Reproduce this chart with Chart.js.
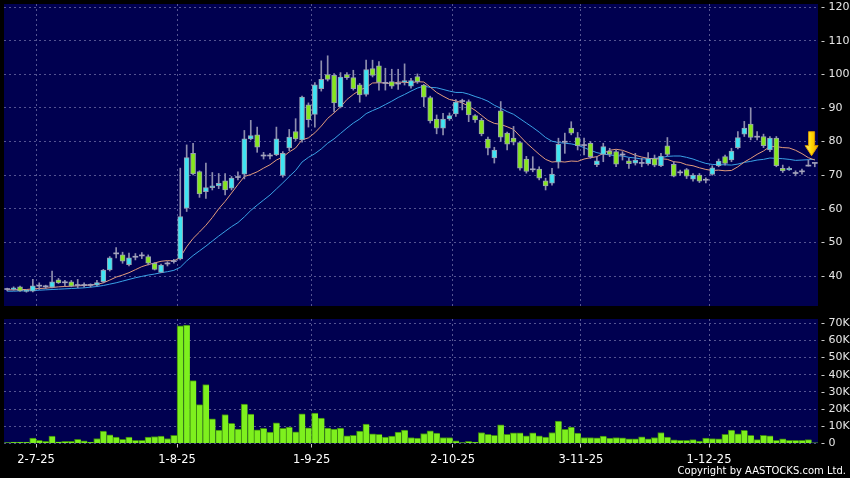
<!DOCTYPE html>
<html><head><meta charset="utf-8">
<script src="https://cdn.jsdelivr.net/npm/chart.js@4.4.1/dist/chart.umd.min.js"></script>
<style>
html,body{margin:0;padding:0;background:#000;width:850px;height:478px;overflow:hidden;}
#pc{position:absolute;left:0;top:0;}
#vc{position:absolute;left:0;top:312px;}
#copy{position:absolute;right:4px;top:465px;color:#fff;font:10px 'DejaVu Sans';line-height:12px;white-space:nowrap;}
</style></head><body>
<canvas id="pc" width="850" height="310"></canvas>
<canvas id="vc" width="850" height="166"></canvas>
<div id="copy">Copyright by AASTOCKS.com Ltd.</div>
<script>
const dates = ['24-6-25','25-6-25','26-6-25','27-6-25','30-6-25',
'2-7-25','3-7-25','4-7-25','7-7-25','8-7-25','9-7-25','10-7-25','11-7-25','14-7-25','15-7-25','16-7-25','17-7-25','18-7-25','21-7-25','22-7-25','23-7-25','24-7-25','25-7-25','28-7-25','29-7-25','30-7-25','31-7-25',
'1-8-25','4-8-25','5-8-25','6-8-25','7-8-25','8-8-25','11-8-25','12-8-25','13-8-25','14-8-25','15-8-25','18-8-25','19-8-25','20-8-25','21-8-25','22-8-25','25-8-25','26-8-25','27-8-25','28-8-25','29-8-25',
'1-9-25','2-9-25','3-9-25','4-9-25','5-9-25','8-9-25','9-9-25','10-9-25','11-9-25','12-9-25','15-9-25','16-9-25','17-9-25','18-9-25','19-9-25','22-9-25','23-9-25','24-9-25','25-9-25','26-9-25','29-9-25','30-9-25',
'2-10-25','3-10-25','6-10-25','8-10-25','9-10-25','10-10-25','13-10-25','14-10-25','15-10-25','16-10-25','17-10-25','20-10-25','21-10-25','22-10-25','23-10-25','24-10-25','27-10-25','28-10-25','30-10-25','31-10-25',
'3-11-25','4-11-25','5-11-25','6-11-25','7-11-25','10-11-25','11-11-25','12-11-25','13-11-25','14-11-25','17-11-25','18-11-25','19-11-25','20-11-25','21-11-25','24-11-25','25-11-25','26-11-25','27-11-25','28-11-25',
'1-12-25','2-12-25','3-12-25','4-12-25','5-12-25','8-12-25','9-12-25','10-12-25','11-12-25','12-12-25','15-12-25','16-12-25','17-12-25','18-12-25','19-12-25','22-12-25','23-12-25'];

const monthStarts = ['2-7-25','1-8-25','1-9-25','2-10-25','3-11-25','1-12-25'];
const priceTicks = [40,50,60,70,80,90,100,110,120];
const volumeTicksK = [0,10,20,30,40,50,60,70];

const opens = [36.0,36.0,36.8,35.4,35.5,37.0,36.8,36.7,38.9,38.0,
38.3,37.2,37.2,37.2,37.3,38.3,41.8,46.6,46.3,43.4,
45.6,46.0,45.8,43.8,41.1,43.6,44.3,45.1,60.2,76.5,
71.1,65.1,66.3,66.8,68.3,66.1,69.3,70.3,80.8,82.0,
75.7,75.7,76.1,69.9,78.1,83.0,80.5,90.9,88.1,95.7,
99.9,99.7,90.3,99.9,99.0,96.9,94.0,101.7,102.5,97.3,
97.8,97.1,97.7,96.5,99.3,96.8,93.1,86.7,84.0,86.7,
88.2,91.9,91.9,87.7,86.4,80.7,75.1,89.1,82.5,81.0,
79.7,74.8,71.6,71.8,68.3,67.6,73.9,79.8,84.0,81.2,
78.8,79.5,73.1,76.2,77.2,77.0,76.0,74.3,73.6,73.5,
73.4,75.0,72.8,78.7,73.2,70.7,71.7,68.8,70.0,68.5,
70.2,72.8,75.5,74.5,78.2,82.2,85.2,81.3,81.5,77.5,
81.0,72.0,71.6,70.5,71.0,72.7,73.5];

const highs = [36.4,36.8,37.0,36.0,39.0,38.0,37.3,41.5,39.3,38.7,
38.7,39.0,38.0,37.7,38.7,42.0,45.8,48.5,47.1,46.8,
46.7,47.0,46.3,44.0,43.6,44.3,45.0,72.1,79.0,79.5,
71.3,73.6,70.8,70.5,70.5,69.6,71.0,83.3,86.3,84.3,
76.8,76.5,84.3,77.0,83.6,86.8,93.5,91.5,97.5,104.0,
105.5,100.2,100.5,100.5,101.2,97.3,104.2,104.2,103.8,101.8,
101.5,101.5,103.1,98.8,100.1,97.0,93.5,87.9,88.4,88.5,
92.5,92.6,92.4,88.0,86.9,81.3,78.3,91.9,82.8,84.5,
80.0,75.6,75.5,72.5,69.1,72.0,81.0,82.5,85.9,82.7,
81.0,80.0,75.5,79.5,78.0,77.5,77.0,75.0,76.5,75.0,
76.7,76.0,76.5,81.2,74.0,71.5,72.0,70.5,70.5,69.2,
72.8,74.8,76.0,78.0,83.0,86.0,90.0,83.0,82.2,81.5,
81.5,73.0,72.5,71.3,71.8,74.5,73.5];

const lows = [35.6,35.8,35.4,35.2,35.3,36.0,36.3,36.5,37.8,37.1,
36.8,36.5,36.7,36.7,37.1,38.0,41.5,45.4,43.8,43.0,
44.8,45.2,43.3,41.8,41.0,43.0,43.8,44.8,59.2,70.1,
63.4,63.1,65.6,66.0,64.1,65.6,68.6,68.9,80.5,76.8,
74.8,74.8,75.8,69.4,77.3,80.3,79.8,84.3,84.3,95.0,
98.0,88.8,90.0,98.5,95.3,91.7,93.5,99.2,95.3,95.3,
95.8,95.5,96.8,95.9,97.3,90.4,85.5,82.3,82.0,86.3,
87.5,89.4,85.9,85.7,81.7,76.0,73.6,80.0,77.5,79.0,
71.5,70.6,71.0,68.6,65.6,67.0,72.1,76.5,82.0,77.5,
76.0,75.0,72.5,74.0,75.5,72.5,74.5,72.0,73.0,72.5,
73.0,72.5,72.5,75.7,69.5,70.0,69.0,68.2,67.8,67.7,
70.0,72.5,73.0,74.0,77.8,81.5,80.5,80.5,78.2,77.0,
72.5,70.8,71.4,69.8,70.3,72.7,72.5];

const closes = [36.0,36.5,35.6,35.8,37.1,37.0,36.8,38.3,38.0,38.0,
37.0,37.2,37.2,37.2,38.1,41.8,45.4,46.6,44.4,45.4,
45.6,46.0,43.8,42.0,43.3,43.6,44.3,57.7,75.2,70.4,
64.4,66.3,66.8,67.6,65.6,69.1,69.3,80.8,81.8,78.3,
75.7,75.7,80.8,76.5,81.3,80.8,93.2,86.5,96.9,98.5,
98.5,91.5,99.2,99.0,95.7,93.9,101.4,99.7,97.6,97.3,
96.5,97.1,98.1,98.1,97.8,93.2,86.1,84.0,86.7,87.7,
91.7,91.9,87.9,86.4,82.3,78.0,77.5,81.3,79.2,79.8,
72.1,71.1,71.6,69.1,66.8,70.3,79.2,79.8,82.5,78.8,
78.8,75.5,74.3,78.5,76.2,73.3,76.0,73.4,74.5,73.5,
75.0,73.0,75.7,76.2,69.7,70.7,69.7,70.0,68.2,68.5,
72.2,74.2,73.5,77.2,81.2,84.0,81.2,81.3,78.8,81.0,
72.8,71.3,72.0,70.5,71.0,72.7,73.5];

const ma10 = [35.9,35.9,36.0,36.0,36.2,36.3,36.4,36.6,36.8,36.9,
37.0,37.1,37.2,37.4,37.5,38.0,38.8,39.7,40.3,41.0,
41.9,42.8,43.4,43.9,44.4,44.6,44.5,45.6,48.7,51.2,
53.1,55.1,57.4,60.0,62.2,64.7,67.2,69.6,70.2,71.0,
72.1,73.1,74.5,75.4,76.9,78.1,80.5,81.1,82.6,84.6,
86.9,88.5,90.3,92.5,94.0,95.3,96.1,97.4,97.5,97.4,
97.2,97.7,97.6,97.5,97.8,97.7,96.2,94.6,93.5,92.5,
92.1,91.5,90.5,89.3,87.8,86.3,85.4,85.1,84.4,83.6,
81.6,79.6,77.9,76.2,74.7,73.9,74.1,73.9,74.2,74.1,
74.8,75.2,75.5,76.5,77.4,77.7,77.4,76.7,75.9,75.4,
75.0,74.8,74.9,74.7,74.0,73.8,73.1,72.8,72.2,71.7,
71.4,71.5,71.3,71.4,72.5,73.9,75.0,76.2,77.2,78.5,
78.5,78.2,78.1,77.4,76.4,75.2,74.5];

const ma20 = [35.5,35.5,35.6,35.6,35.7,35.8,35.9,36.0,36.1,36.2,
36.3,36.4,36.5,36.7,36.9,37.2,37.6,38.0,38.5,39.0,
39.5,39.9,40.3,40.6,41.0,41.3,41.7,42.6,44.5,46.1,
47.5,48.9,50.4,51.9,53.3,54.7,55.9,57.6,59.5,61.1,
62.6,64.1,65.9,67.7,69.6,71.4,73.9,75.3,76.4,77.8,
79.5,80.8,82.4,84.0,85.5,86.7,88.3,89.2,90.0,91.0,
92.0,93.1,94.0,95.0,95.9,96.5,96.1,96.0,95.5,95.0,
94.6,94.6,94.1,93.4,92.8,92.0,90.8,89.9,88.9,88.1,
86.8,85.5,84.2,82.8,81.2,80.1,79.7,79.5,79.3,78.9,
78.2,77.4,76.7,76.3,76.0,75.8,75.7,75.3,75.1,74.8,
74.9,75.0,75.2,75.6,75.7,75.7,75.3,74.8,74.1,73.5,
73.2,73.1,73.1,73.0,73.3,73.8,74.1,74.5,74.7,75.1,
75.0,74.9,74.7,74.4,74.5,74.6,74.7];

const volumesK = [0.6,0.8,0.8,0.8,3.1,1.8,1.2,4.3,1.0,1.2,
1.2,2.5,1.6,0.8,2.9,7.2,5.1,3.7,2.5,3.7,
1.9,1.9,3.7,4.1,4.3,2.9,4.7,68.5,68.9,36.6,
22.6,34.3,14.4,7.8,16.9,11.7,8.4,23.0,17.1,8.0,
8.8,6.6,12.1,8.8,9.5,6.8,17.3,9.1,17.7,14.8,
9.0,8.4,9.0,4.5,4.7,7.2,11.3,5.6,5.4,3.7,
4.3,6.6,7.8,3.5,3.1,5.8,7.4,6.0,3.5,3.5,
1.6,0.6,1.2,0.8,6.4,5.4,4.7,10.9,5.4,6.2,
6.2,4.5,6.2,4.5,3.7,6.4,13.0,8.2,9.5,6.0,
3.5,3.5,3.3,4.3,3.1,3.5,3.3,2.7,2.7,3.9,
2.7,3.5,6.4,3.7,2.1,1.9,1.9,2.3,1.4,3.1,
2.9,2.7,5.4,7.8,5.6,7.6,4.7,2.3,4.7,4.5,
1.9,2.7,1.9,1.8,1.9,2.3,0.4];

const arrowTipPrice = 75.8;

/* ---------- styling ---------- */
const NAVY = '#000050';
const GRID = 'rgba(135,135,185,0.62)';
const UP_FILL = '#3fe4f2', DOWN_FILL = '#86e61e', FLAT_FILL = '#a4a4bc';
const EDGE = '#98a0b2';
const monthGrid = c => monthStarts.includes(dates[c.index]) ? GRID : 'rgba(0,0,0,0)';
const monthTick = c => monthStarts.includes(dates[c.index]) ? '#c8c8c8' : 'rgba(0,0,0,0)';

const bodyFill = opens.map((o,i)=> closes[i] > o ? UP_FILL : (closes[i] < o ? DOWN_FILL : FLAT_FILL));
const bodyEdge = opens.map((o,i)=> closes[i] === o ? FLAT_FILL : EDGE);
const bodyBorder = opens.map((o,i)=> closes[i] === o ? 0 : 1);

const navyPlugin = {id:'navy', beforeDraw(c){const a=c.chartArea,x=c.ctx;x.save();x.fillStyle=NAVY;x.fillRect(a.left,a.top,a.right-a.left,a.bottom-a.top);x.restore();}};
const arrowPlugin = {id:'arrow', afterDatasetsDraw(c){
  const xs=c.scales.x, ys=c.scales.y, ctx=c.ctx, n=dates.length;
  const x=(xs.getPixelForValue(n-2)+xs.getPixelForValue(n-1))/2;
  const t=ys.getPixelForValue(arrowTipPrice);
  ctx.save();
  ctx.beginPath();
  ctx.moveTo(x,t); ctx.lineTo(x-6.5,t-10); ctx.lineTo(x-3,t-10); ctx.lineTo(x-3,t-24);
  ctx.lineTo(x+3,t-24); ctx.lineTo(x+3,t-10); ctx.lineTo(x+6.5,t-10); ctx.closePath();
  const g=ctx.createLinearGradient(x-6,0,x+6,0); g.addColorStop(0,'#fff27a'); g.addColorStop(0.5,'#ffd700'); g.addColorStop(1,'#f0a800');
  ctx.fillStyle=g; ctx.fill(); ctx.strokeStyle='#d99a00'; ctx.lineWidth=1; ctx.stroke();
  ctx.restore();
}};

const yFont = {family:'DejaVu Sans', size:11};

new Chart(document.getElementById('pc'), {
  type:'bar',
  data:{labels:dates, datasets:[
    {type:'line', label:'MA10', data:ma10, borderColor:'#e39c7c', borderWidth:1, pointRadius:0, order:3},
    {type:'line', label:'MA20', data:ma20, borderColor:'#3aa2e6', borderWidth:1, pointRadius:0, order:3},
    {label:'Range', data:highs.map((h,i)=>[lows[i],h]), backgroundColor:'#8e8eae', barThickness:1, grouped:false, order:2},
    {label:'Body', data:opens.map((o,i)=>[o,closes[i]]), backgroundColor:bodyFill, borderColor:bodyEdge, borderWidth:bodyBorder, borderSkipped:false, barThickness:5, minBarLength:1, grouped:false, order:1}
  ]},
  options:{
    responsive:false, animation:false, events:[],
    layout:{padding:{left:4, top:4, right:0, bottom:4}},
    plugins:{legend:{display:false}, tooltip:{enabled:false}},
    scales:{
      x:{offset:true, ticks:{display:false, autoSkip:false}, grid:{offset:true, color:monthGrid, drawTicks:false}, border:{display:false, dash:[2,3]},
         afterFit:s=>{s.height=0; s.paddingLeft=0; s.paddingRight=0;}},
      y:{position:'right', min:31.1, max:120.9,
         afterBuildTicks:s=>{s.ticks=priceTicks.map(v=>({value:v}));},
         ticks:{color:'#e6e6e6', font:yFont, padding:3, callback:v=>'- '+v},
         grid:{color:GRID, drawTicks:false}, border:{display:false, dash:[2,3]},
         afterFit:s=>{s.width=32; s.paddingTop=0; s.paddingBottom=0;}}
    }
  },
  plugins:[navyPlugin, arrowPlugin]
});

new Chart(document.getElementById('vc'), {
  type:'bar',
  data:{labels:dates, datasets:[
    {label:'Volume (K)', data:volumesK, backgroundColor:'#7ef01e', borderColor:'#3a8410', borderWidth:{left:1, top:1, right:0, bottom:0}, borderSkipped:false, categoryPercentage:1, barPercentage:1}
  ]},
  options:{
    responsive:false, animation:false, events:[],
    layout:{padding:{left:4, top:7, right:0, bottom:0}},
    plugins:{legend:{display:false}, tooltip:{enabled:false}},
    scales:{
      x:{offset:true,
         ticks:{autoSkip:false, maxRotation:0, minRotation:0, color:'#ffffff', font:{family:'DejaVu Sans', size:11.5}, padding:6, labelOffset:-3.2,
                callback:(v,i)=> monthStarts.includes(dates[i]) ? dates[i] : ''},
         grid:{offset:true, color:monthGrid, drawTicks:true, tickLength:4, tickColor:monthTick}, border:{display:false, dash:[2,3]},
         afterFit:s=>{s.height=34.5; s.paddingLeft=0; s.paddingRight=0;}},
      y:{position:'right', min:0, max:72.5,
         afterBuildTicks:s=>{s.ticks=volumeTicksK.map(v=>({value:v}));},
         ticks:{color:'#e6e6e6', font:yFont, padding:3, callback:v=>'- '+(v===0?'0':v+'K')},
         grid:{color:GRID, drawTicks:false}, border:{display:false, dash:[2,3]},
         afterFit:s=>{s.width=32; s.paddingTop=0; s.paddingBottom=0;}}
    }
  },
  plugins:[navyPlugin]
});
</script>
</body></html>
